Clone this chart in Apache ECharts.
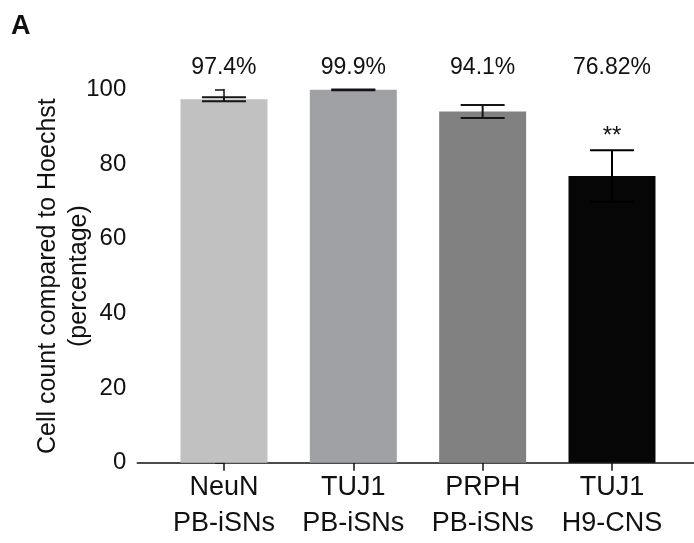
<!DOCTYPE html>
<html>
<head>
<meta charset="utf-8">
<script src="https://cdn.jsdelivr.net/npm/echarts@6/dist/echarts.min.js"></script>
<style>html,body{margin:0;padding:0;background:#fff}#c{width:694px;height:543px}</style>
</head>
<body>
<div id="c"></div>
<script>
const categories = ['NeuN\nPB-iSNs', 'TUJ1\nPB-iSNs', 'PRPH\nPB-iSNs', 'TUJ1\nH9-CNS'];
const means = [97.4, 99.9, 94.1, 76.82];
const errors = [0.55, 0.1, 1.75, 6.9];
const pctLabels = ['97.4%', '99.9%', '94.1%', '76.82%'];
const sigLabels = ['', '', '', '**'];
const barColors = ['#c1c1c1', '#a0a1a4', '#818181', '#060606'];
const yTicks = [0, 20, 40, 60, 80, 100];

const FONT = '"Liberation Sans", Arial, Helvetica, sans-serif';
const chart = echarts.init(document.getElementById('c'), null, {renderer: 'canvas'});

const idx = categories.map((_, i) => i);

const option = {
  animation: false,
  backgroundColor: '#fff',
  title: {
    text: 'A', left: 6, top: 8,
    textStyle: {fontFamily: FONT, fontSize: 27, fontWeight: 'bold', color: '#111'}
  },
  grid: {left: 137.3, right: 0, top: 89.5, bottom: 80.3, containLabel: false},
  xAxis: {
    type: 'value',
    min: -0.67, max: 3.634,
    splitLine: {show: false},
    axisLine: {show: true, onZero: false, lineStyle: {color: '#111', width: 1.5}},
    axisTick: {show: true, length: 8, customValues: idx, lineStyle: {color: '#111', width: 1.5}},
    axisLabel: {
      show: true, customValues: idx, margin: 7,
      formatter: v => categories[Math.round(v)] || '',
      fontFamily: FONT, fontSize: 27, lineHeight: 36, color: '#111'
    }
  },
  yAxis: {
    type: 'value', min: 0, max: 100, interval: 20,
    splitLine: {show: false},
    axisLine: {show: true, lineStyle: {color: '#111', width: 1.5}},
    axisTick: {show: true, length: 9, lineStyle: {color: '#111', width: 1.5}},
    axisLabel: {
      margin: 11, fontFamily: FONT, fontSize: 24, color: '#111',
      formatter: v => yTicks.includes(v) ? String(v) : ''
    },
    name: 'Cell count compared to Hoechst\n(percentage)',
    nameLocation: 'middle', nameGap: 43, nameMoveOverlap: false,
    nameTextStyle: {fontFamily: FONT, fontSize: 25, lineHeight: 31, color: '#111'}
  },
  series: [
    {
      type: 'bar',
      barWidth: 87,
      data: means.map((m, i) => ({value: [i, m], itemStyle: {color: barColors[i]}})),
      z: 2
    },
    {
      type: 'custom',
      z: 3,
      clip: false,
      data: means.map((m, i) => [i, m, errors[i]]),
      renderItem: function (params, api) {
        const i = params.dataIndex;
        const x = api.value(0), m = api.value(1), e = api.value(2);
        const hi = api.coord([x, m + e]);
        const lo = api.coord([x, m - e]);
        const half = 22;
        const st = {stroke: i === 3 ? '#000' : '#151515', lineWidth: 2};
        return {
          type: 'group',
          children: [
            {type: 'line', shape: {x1: hi[0], y1: hi[1], x2: lo[0], y2: lo[1]}, style: st},
            {type: 'line', shape: {x1: hi[0] - half, y1: hi[1], x2: hi[0] + half, y2: hi[1]}, style: st},
            {type: 'line', shape: {x1: lo[0] - half, y1: lo[1], x2: lo[0] + half, y2: lo[1]}, style: st}
          ]
        };
      }
    },
    {
      type: 'custom',
      z: 4,
      clip: false,
      data: means.map((m, i) => [i, m, errors[i]]),
      renderItem: function (params, api) {
        const i = params.dataIndex;
        const x = api.value(0), m = api.value(1), e = api.value(2);
        const top = api.coord([x, 100]);
        const hi = api.coord([x, m + e]);
        return {
          type: 'group',
          children: [
            {type: 'text', style: {
              x: top[0], y: top[1] - 22, text: pctLabels[i],
              font: '23px ' + FONT, fill: '#111', align: 'center', verticalAlign: 'middle'
            }},
            {type: 'text', style: {
              x: hi[0], y: hi[1] - 14, text: sigLabels[i],
              font: '24px ' + FONT, fill: '#111', align: 'center', verticalAlign: 'middle'
            }}
          ]
        };
      }
    }
  ]
};
chart.setOption(option);
</script>
</body>
</html>
